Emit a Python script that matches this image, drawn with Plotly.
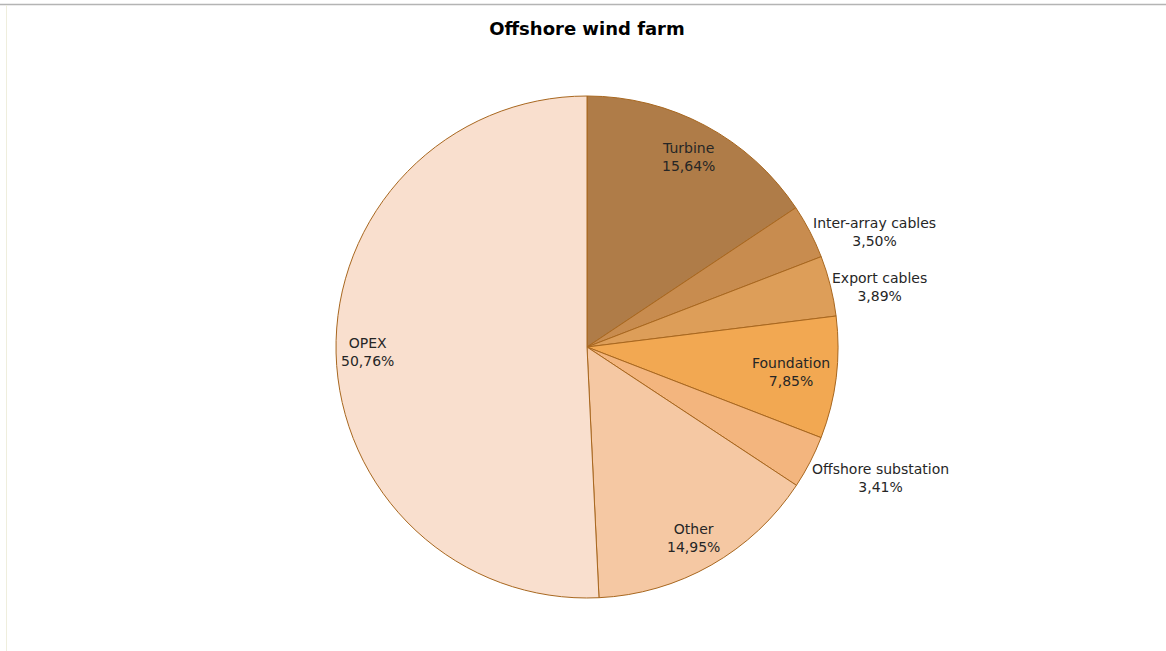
import math
import plotly.graph_objects as go

# Cost breakdown of an offshore wind farm (share of total, %)
categories = ["Turbine", "Inter-array cables", "Export cables", "Foundation",
              "Offshore substation", "Other", "OPEX"]
shares = [15.64, 3.50, 3.89, 7.85, 3.41, 14.95, 50.76]

slice_colors = ["#af7c48", "#c88c4f", "#dd9e59", "#f2a852",
                "#f3b57e", "#f5c8a3", "#f9dfce"]

# label placement: (radius factor, angle shift in degrees from slice middle)
label_place = {
    "Turbine": (0.86, 0.0),
    "Inter-array cables": (1.235, 5.6),
    "Export cables": (1.19, 2.5),
    "Foundation": (0.817, 0.0),
    "Offshore substation": (1.28, -3.3),
    "Other": (0.869, 0.5),
    "OPEX": (0.873, 0.1),
}

W, H = 1166, 651
M_L, M_R, M_T, M_B = 8, 0, 96, 53
plot_w = W - M_L - M_R
plot_h = H - M_T - M_B
radius = min(plot_w, plot_h) / 2

FONT = "Century Gothic, URW Gothic, DejaVu Sans, sans-serif"

fig = go.Figure(go.Pie(
    labels=categories,
    values=shares,
    sort=False,
    direction="clockwise",
    rotation=0,
    marker=dict(colors=slice_colors, line=dict(color="#a8671f", width=1)),
    textinfo="none",
    hoverinfo="label+value",
    showlegend=False,
))

# data labels, positioned around each slice's mid-angle
total = sum(shares)
cum = 0.0
annotations = []
for name, v in zip(categories, shares):
    mid = (cum + v / 2) / total * 360.0
    cum += v
    k, shift = label_place[name]
    a = math.radians(mid + shift)
    x = 0.5 + k * radius * math.sin(a) / plot_w
    y = 0.5 + k * radius * math.cos(a) / plot_h
    annotations.append(dict(
        x=x, y=y, xref="paper", yref="paper",
        text=f"{name}<br>{v:.2f}%".replace(".", ","),
        showarrow=False, xanchor="center", yanchor="middle",
        font=dict(family=FONT, size=14, color="#262626"),
    ))

# thin frame lines of the chart area
px = lambda p: (p - M_L) / plot_w
py = lambda p: (H - M_B - p) / plot_h
shapes = [
    dict(type="line", xref="paper", yref="paper", x0=px(0), x1=px(W), y0=py(4.5), y1=py(4.5),
         line=dict(color="#b4b4b4", width=1.5)),
    dict(type="line", xref="paper", yref="paper", x0=px(6.5), x1=px(6.5), y0=py(5), y1=py(H),
         line=dict(color="#efeedd", width=1)),
]

fig.update_layout(
    width=W, height=H,
    margin=dict(l=M_L, r=M_R, t=M_T, b=M_B),
    paper_bgcolor="white", plot_bgcolor="white",
    title=dict(text="<b>Offshore wind farm</b>", x=0.5, xref="paper", xanchor="center",
               y=1 - 29 / H, yref="container", yanchor="middle",
               font=dict(family=FONT, size=18, color="#000000")),
    annotations=annotations,
    shapes=shapes,
)

fig.write_html("out.html")
